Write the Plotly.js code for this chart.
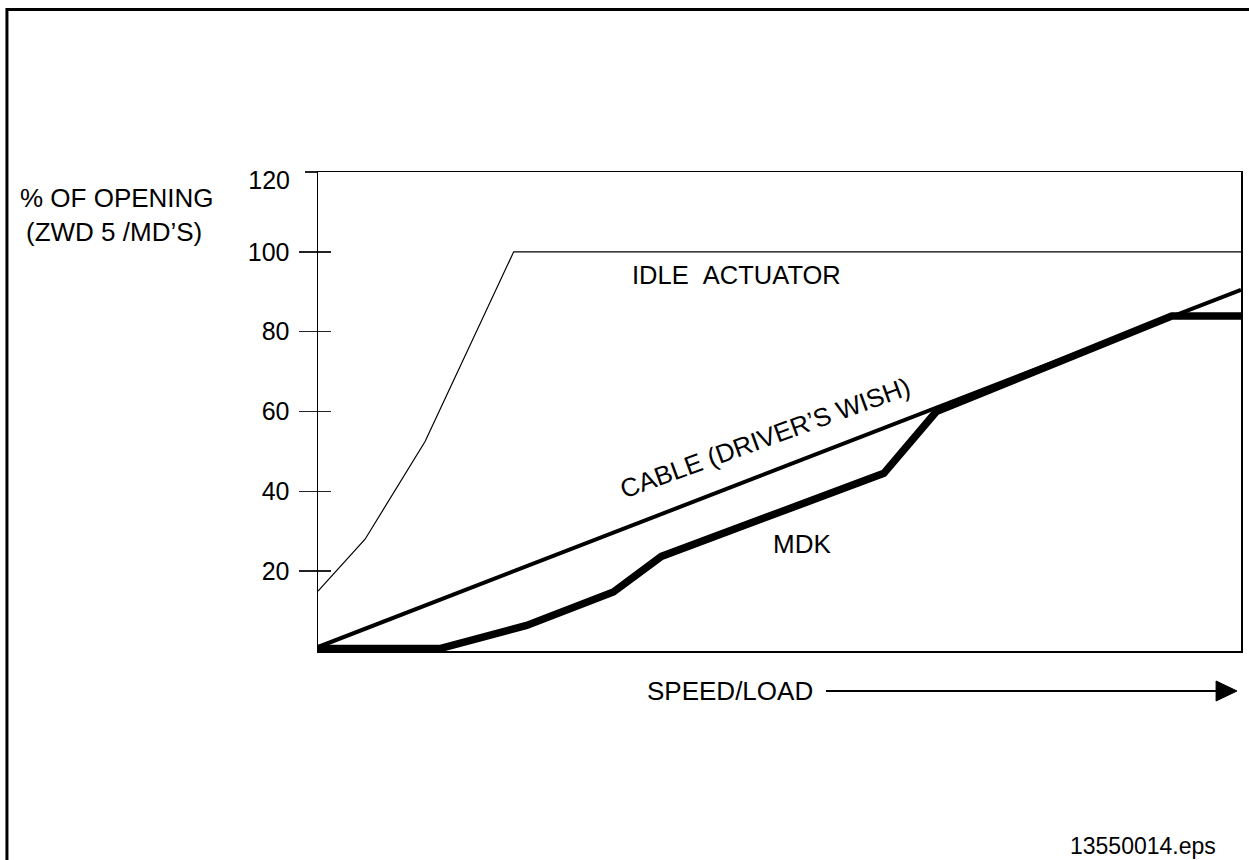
<!DOCTYPE html>
<html>
<head>
<meta charset="utf-8">
<script src="https://cdn.plot.ly/plotly-3.0.1.min.js"></script>
<style>html,body{margin:0;padding:0;background:#fff;}#chart{width:1249px;height:860px;}</style>
</head>
<body>
<div id="chart"></div>
<script>
// ---- data ----
const idleX  = [0, 5.1, 11.6, 21.2, 100];
const idleY  = [15, 28, 52.5, 100, 100];
const cableX = [0, 100];
const cableY = [1, 90.5];
const mdkX   = [0, 13.2, 22.6, 32.0, 37.2, 61.3, 67.0, 92.5, 100];
const mdkY   = [0.6, 0.6, 6.4, 14.8, 23.7, 44.5, 60.0, 83.9, 83.9];
const yTickVals  = [20, 40, 60, 80, 100];
const yTickText  = ["20", "40", "60", "80", "100"];
const yTopVal    = [120];
const yTopText   = ["120"];
const yTitleLines = ["% OF OPENING", "(ZWD 5 /MD\u2019S)"];
const seriesLabels = {idle: "IDLE\u00a0\u00a0ACTUATOR", cable: "CABLE (DRIVER\u2019S WISH)", mdk: "MDK"};
const xLabel = "SPEED/LOAD";
const footer = "13550014.eps";

const FONT = "Liberation Sans, Arial, Helvetica, sans-serif";
const fs = 26;

const traces = [
  {x: idleX, y: idleY, mode: "lines", line: {color: "#000", width: 1.2}, hoverinfo: "skip", showlegend: false},
  {x: cableX, y: cableY, mode: "lines", line: {color: "#000", width: 4}, hoverinfo: "skip", showlegend: false},
  {x: mdkX, y: mdkY, mode: "lines", line: {color: "#000", width: 7.5}, hoverinfo: "skip", showlegend: false},
  {x: [null], y: [null], yaxis: "y2", mode: "lines", hoverinfo: "skip", showlegend: false},
  {x: [null], y: [null], yaxis: "y3", mode: "lines", hoverinfo: "skip", showlegend: false}
];

const baseY = {range: [0, 120], showgrid: false, zeroline: false, fixedrange: true};

const layout = {
  width: 1249, height: 860,
  margin: {l: 318, r: 8, t: 172, b: 209, pad: 0},
  paper_bgcolor: "#fff", plot_bgcolor: "#fff",
  font: {family: FONT, size: fs, color: "#000"},
  showlegend: false,
  xaxis: {range: [0, 100], showgrid: false, zeroline: false, showticklabels: false, ticks: "",
          showline: true, linecolor: "#000", linewidth: 1.5, mirror: true, fixedrange: true},
  yaxis: Object.assign({}, baseY, {tickmode: "array", tickvals: yTickVals, ticktext: yTickText,
          ticks: "outside", ticklen: 18, tickwidth: 1.5, tickcolor: "#222",
          ticklabelstandoff: 4, tickfont: {family: FONT, size: 25, color: "#000"},
          showline: true, linecolor: "#000", linewidth: 1.5, mirror: true}),
  yaxis2: Object.assign({}, baseY, {overlaying: "y", side: "left", tickmode: "array", tickvals: yTickVals,
          showticklabels: false, ticks: "inside", ticklen: 13, tickwidth: 1.5, tickcolor: "#222", showline: false}),
  yaxis3: Object.assign({}, baseY, {overlaying: "y", side: "left", tickmode: "array", tickvals: yTopVal, ticktext: yTopText,
          ticks: "outside", ticklen: 12, tickwidth: 1.5, tickcolor: "#222", ticklabelshift: 8,
          ticklabelstandoff: 10, tickfont: {family: FONT, size: 25, color: "#000"}, showline: false}),
  annotations: [
    {x: 45.3, y: 94.1, xref: "x", yref: "y", text: seriesLabels.idle, showarrow: false, font: {size: 25.5}},
    {x: 48.4, y: 53.4, xref: "x", yref: "y", text: seriesLabels.cable, showarrow: false, textangle: -20, font: {size: fs}},
    {x: 52.4, y: 26.8, xref: "x", yref: "y", text: seriesLabels.mdk, showarrow: false, font: {size: fs}},
    {x: 0.3543, y: -0.0835, xref: "paper", yref: "paper", xanchor: "left", yanchor: "middle", text: xLabel, showarrow: false, font: {size: fs}},
    {x: -0.325, y: 0.9457, xref: "paper", yref: "paper", xanchor: "left", yanchor: "middle", text: yTitleLines[0], showarrow: false, font: {size: fs}},
    {x: -0.3189, y: 0.8747, xref: "paper", yref: "paper", xanchor: "left", yanchor: "middle", text: yTitleLines[1], showarrow: false, font: {size: fs}},
    {x: 0.975, y: -0.407, xref: "paper", yref: "paper", xanchor: "right", yanchor: "middle", text: footer, showarrow: false, font: {size: 23}}
  ],
  shapes: [
    // outer frame (extends beyond the bottom/right edges)
    {type: "rect", xref: "paper", yref: "paper", x0: -0.337, x1: 1.2, y0: -0.6, y1: 1.339, line: {color: "#000", width: 3}},
    // speed/load arrow
    {type: "line", xref: "paper", yref: "paper", x0: 0.5504, x1: 0.975, y0: -0.0835, y1: -0.0835, line: {color: "#000", width: 2}},
    {type: "path", xref: "paper", yref: "paper", path: "M 0.973 -0.0626 L 0.9957 -0.0835 L 0.973 -0.1044 Z", fillcolor: "#000", line: {color: "#000", width: 1}}
  ]
};

Plotly.newPlot("chart", traces, layout, {staticPlot: true, displayModeBar: false});
</script>
</body>
</html>
